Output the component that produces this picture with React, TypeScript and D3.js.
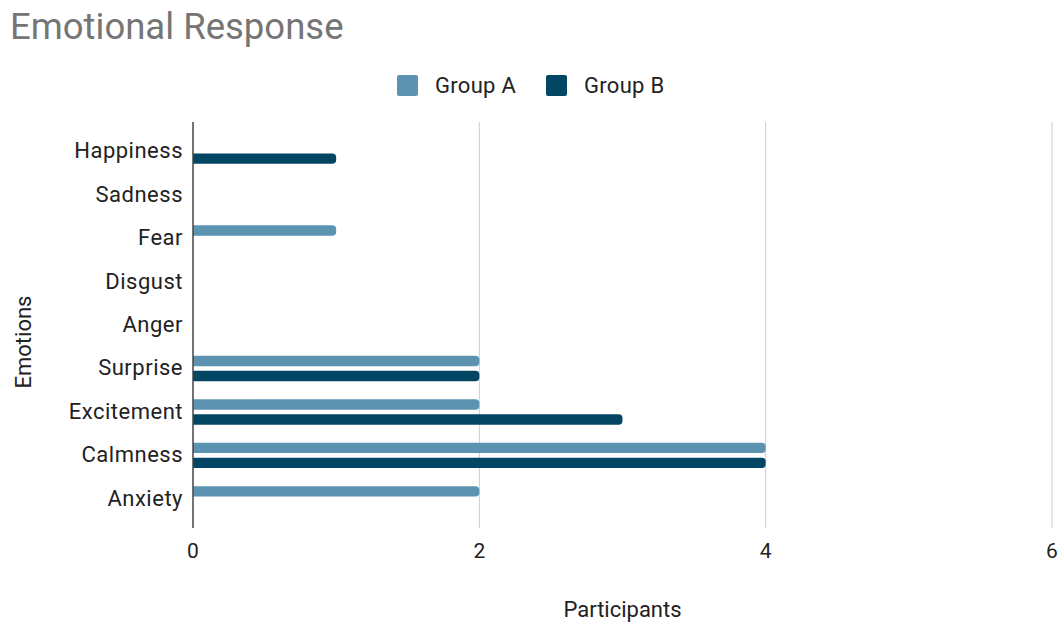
import React from "react";
import * as d3 from "d3";

const categories = ["Happiness", "Sadness", "Fear", "Disgust", "Anger", "Surprise", "Excitement", "Calmness", "Anxiety"];
const groupA = [0, 0, 1, 0, 0, 2, 2, 4, 2];
const groupB = [1, 0, 0, 0, 0, 2, 3, 4, 0];
const seriesNames = ["Group A", "Group B"];
const seriesColors = ["#5b93b1", "#034664"];
const xTicks = [0, 2, 4, 6];

const W = 1064, H = 622;
const plotLeft = 193, plotRight = 1052, plotTop = 122, plotBottom = 528;

export default function App() {
  const x = d3.scaleLinear().domain([0, 6]).range([plotLeft, plotRight]);
  const y = d3.scaleBand<string>().domain(categories).range([129.3, 520.7]).padding(0);
  const barH = 10.3;
  const gap = 2.35;
  const font = "Roboto, 'Noto Sans', sans-serif";
  const series = [groupA, groupB];

  const barPath = (x0: number, x1: number, y0: number, h: number) => {
    const r = Math.min(4, (x1 - x0) / 2, h / 2);
    const p = d3.path();
    p.moveTo(x0, y0);
    p.lineTo(x1 - r, y0);
    p.arcTo(x1, y0, x1, y0 + r, r);
    p.lineTo(x1, y0 + h - r);
    p.arcTo(x1, y0 + h, x1 - r, y0 + h, r);
    p.lineTo(x0, y0 + h);
    p.closePath();
    return p.toString();
  };

  return (
    <svg width={W} height={H} style={{ position: "absolute", left: 0, top: 0, background: "#fff" }}>
      <text x={10} y={39} fontFamily={font} fontSize={36.5} fill="#757575">Emotional Response</text>
      {seriesNames.map((s, i) => {
        const lx = i === 0 ? 397 : 546;
        return (
          <g key={s}>
            <rect x={lx} y={75} width={21} height={21} rx={2} fill={seriesColors[i]} />
            <text x={lx + 38} y={93} fontFamily={font} fontSize={22} letterSpacing={0.3} fill="#222">{s}</text>
          </g>
        );
      })}
      {xTicks.map((t) => (
        <g key={t}>
          {t !== 0 && <line x1={x(t)} x2={x(t)} y1={plotTop} y2={plotBottom} stroke="#cccccc" strokeWidth={1} />}
          <text x={x(t)} y={558} textAnchor="middle" fontFamily={font} fontSize={21} fill="#222">{t}</text>
        </g>
      ))}
      {categories.map((c, ci) => {
        const cy = (y(c) as number) + y.bandwidth() / 2;
        return (
          <g key={c}>
            <text x={183} y={cy + 7} textAnchor="end" fontFamily={font} fontSize={22} letterSpacing={0.5} fill="#222">{c}</text>
            {series.map((vals, si) => {
              const v = vals[ci];
              if (!v) return null;
              const y0 = si === 0 ? cy - gap - barH : cy + gap;
              return <path key={si} d={barPath(x(0), x(v), y0, barH)} fill={seriesColors[si]} />;
            })}
          </g>
        );
      })}
      <line x1={plotLeft} x2={plotLeft} y1={plotTop} y2={plotBottom} stroke="#444" strokeWidth={1.5} />
      <text x={622.5} y={617} textAnchor="middle" fontFamily={font} fontSize={22} fill="#222">Participants</text>
      <text transform={`translate(31,342) rotate(-90)`} textAnchor="middle" fontFamily={font} fontSize={22} fill="#222">Emotions</text>
    </svg>
  );
}
